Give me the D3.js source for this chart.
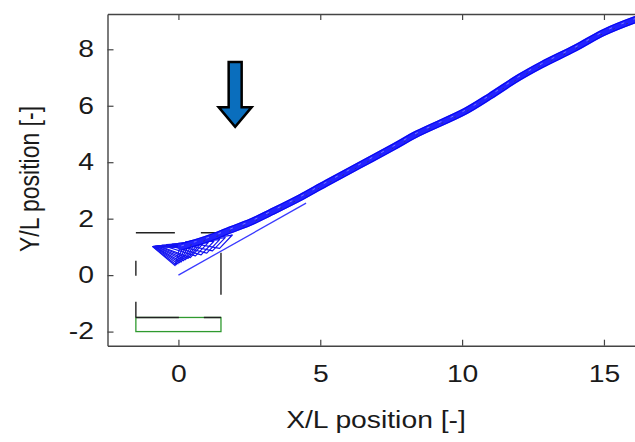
<!DOCTYPE html>
<html>
<head>
<meta charset="utf-8">
<script src="https://cdn.jsdelivr.net/npm/d3@7"></script>
<style>
  html, body { margin: 0; padding: 0; background: #fff; overflow: hidden; }
</style>
</head>
<body>
<div id="chart"></div>
<script>
// centre line of the swept band
const trackX = [0.1, 0.6, 1.2, 1.7, 2.55, 3.25, 4.3, 5.2, 6.4, 7.6, 8.4, 10.1, 11.0, 12.0, 12.8, 14.0, 15.0, 16.1, 16.7];
const trackY = [1.0, 1.15, 1.35, 1.55, 1.88, 2.22, 2.75, 3.25, 3.9, 4.55, 5.0, 5.8, 6.35, 7.0, 7.45, 8.05, 8.6, 9.05, 9.25];

// thin straight line from the origin
const leadX = [0, 4.5];
const leadY = [0, 2.55];

// outlines of the first snapshots (the fan near the start)
const fanShapes = [
    [[-0.91, 1.01], [-0.12, 0.34], [0.05, 0.98]],
    [[-0.90, 1.01], [-0.08, 0.37], [0.15, 0.99]],
    [[-0.88, 1.02], [-0.02, 0.40], [0.25, 1.00]],
    [[-0.86, 1.02], [0.04, 0.44], [0.35, 1.02]],
    [[-0.84, 1.02], [0.10, 0.47], [0.45, 1.03]],
    [[-0.81, 1.03], [0.18, 0.51], [0.55, 1.05]],
    [[-0.78, 1.03], [0.25, 0.55], [0.65, 1.06]],
    [[-0.74, 1.04], [0.34, 0.59], [0.75, 1.08]],
    [[-0.70, 1.04], [0.42, 0.62], [0.85, 1.10]],
    [[-0.58, 1.06], [0.60, 0.68], [1.05, 1.15]],
    [[-0.42, 1.08], [0.80, 0.72], [1.25, 1.20]],
    [[-0.22, 1.10], [1.00, 0.78], [1.45, 1.26]],
    [[0.00, 1.13], [1.20, 0.86], [1.65, 1.33]],
    [[0.25, 1.18], [1.45, 0.95], [1.90, 1.42]]
];

// dashed square and green strip
const boxX = [-1.5, 1.5];
const boxY = [-1.5, 1.5];
const padX = [-1.5, 1.5];
const padY = [-2.0, -1.5];

// arrow: x, and y of top / neck / tip
const arrowX = 2;
const arrowY = [7.55, 5.95, 5.25];

const xTicks = [0, 5, 10, 15];
const yTicks = [-2, 0, 2, 4, 6, 8];

const width = 635;
const height = 442;
const sx = 1.23; // the picture is stretched sideways, text too
const font = "'Liberation Sans', Arial, sans-serif";
const axisColor = '#444';

const x = d3.scaleLinear()
    .domain([-2.5, 16.5])
    .range([107.5, 646.5]);

const y = d3.scaleLinear()
    .domain([-2.5, 9.25])
    .range([345.7, 14]);

const svg = d3.select('#chart')
    .append('svg')
    .attr('width', width)
    .attr('height', height);

// axes (ticks point inward)
const gx = svg.append('g')
    .attr('transform', `translate(0, ${y(-2.5)})`)
    .call(d3.axisBottom(x).tickValues(xTicks).tickFormat(d => String(d))
        .tickSizeInner(-6).tickSizeOuter(0).tickPadding(19.5));

const gt = svg.append('g')
    .attr('transform', `translate(0, ${y(9.25)})`)
    .call(d3.axisTop(x).tickValues(xTicks).tickSizeInner(-6).tickSizeOuter(0).tickFormat(''));

const gy = svg.append('g')
    .attr('transform', `translate(${x(-2.5)}, 0)`)
    .call(d3.axisLeft(y).tickValues(yTicks).tickFormat(d => String(d))
        .tickSizeInner(-6).tickSizeOuter(0).tickPadding(13.5));

[gx, gt, gy].forEach(g => {
    g.select('.domain').attr('stroke', axisColor).attr('stroke-width', 1.4);
    g.selectAll('.tick line').attr('stroke', axisColor).attr('stroke-width', 1.2);
    g.selectAll('.tick text')
        .attr('font-family', font)
        .attr('font-size', '23px')
        .attr('fill', '#1a1a1a');
});

gx.selectAll('.tick text').attr('transform', `scale(${sx},1)`);
gy.selectAll('.tick text')
    .attr('x', -13.5 / sx)
    .attr('transform', `scale(${sx},1)`);

// axis titles
svg.append('text')
    .attr('font-family', font)
    .attr('font-size', '23px')
    .attr('fill', '#1a1a1a')
    .attr('text-anchor', 'middle')
    .attr('transform', `translate(376, 428.3) scale(${sx},1)`)
    .text('X/L position [-]');

svg.append('text')
    .attr('font-family', font)
    .attr('font-size', '23px')
    .attr('fill', '#1a1a1a')
    .attr('text-anchor', 'middle')
    .attr('transform', `translate(39, 179) scale(${sx},1) rotate(-90)`)
    .text('Y/L position [-]');

// green strip
svg.append('rect')
    .attr('x', x(padX[0]))
    .attr('y', y(padY[1]))
    .attr('width', x(padX[1]) - x(padX[0]))
    .attr('height', y(padY[0]) - y(padY[1]))
    .attr('fill', 'none')
    .attr('stroke', '#2f9a2f')
    .attr('stroke-width', 1.3);

// dashed square, one side at a time to keep the dash phase
const sides = [
    { x1: boxX[0], y1: boxY[1], x2: boxX[1], y2: boxY[1], dash: '39,26,15,10' },
    { x1: boxX[1], y1: boxY[1], x2: boxX[1], y2: boxY[0], dash: '0,20,42,30' },
    { x1: boxX[0], y1: boxY[0], x2: boxX[1], y2: boxY[0], dash: '43,25,20' },
    { x1: boxX[0], y1: boxY[1], x2: boxX[0], y2: boxY[0], dash: '0,28,15,26,16' }
];

svg.selectAll('line.box')
    .data(sides)
    .join('line')
    .attr('class', 'box')
    .attr('x1', d => x(d.x1))
    .attr('y1', d => y(d.y1))
    .attr('x2', d => x(d.x2))
    .attr('y2', d => y(d.y2))
    .attr('stroke', '#222')
    .attr('stroke-width', 1.4)
    .attr('stroke-dasharray', d => d.dash);

// thin lead line
svg.append('line')
    .attr('x1', x(leadX[0]))
    .attr('y1', y(leadY[0]))
    .attr('x2', x(leadX[1]))
    .attr('y2', y(leadY[1]))
    .attr('stroke', '#3a3aff')
    .attr('stroke-width', 1.3);

// fan of the first outlines
svg.selectAll('path.fan')
    .data(fanShapes)
    .join('path')
    .attr('class', 'fan')
    .attr('d', d => d3.line().x(p => x(p[0])).y(p => y(p[1]))(d) + 'Z')
    .attr('fill', 'none')
    .attr('stroke', '#1414f0')
    .attr('stroke-width', 1.2)
    .attr('stroke-linejoin', 'round');

// swept band
const track = trackX.map((v, i) => [v, trackY[i]]);
const trackLine = d3.line()
    .x(d => x(d[0]))
    .y(d => y(d[1]))
    .curve(d3.curveCatmullRom);

svg.append('path')
    .datum(track)
    .attr('d', trackLine)
    .attr('fill', 'none')
    .attr('stroke', '#2222ff')
    .attr('stroke-width', 7)
    .attr('stroke-linecap', 'round')
    .attr('stroke-linejoin', 'round');

[-3.2, 3.2].forEach(off => {
    svg.append('path')
        .datum(track)
        .attr('d', trackLine)
        .attr('transform', `translate(0, ${off})`)
        .attr('fill', 'none')
        .attr('stroke', '#0000ee')
        .attr('stroke-width', 1.1)
        .attr('opacity', 0.8);
});

// the small flecks inside the band
svg.append('path')
    .datum(track)
    .attr('d', trackLine)
    .attr('transform', 'translate(0, -1)')
    .attr('fill', 'none')
    .attr('stroke', '#8c8cff')
    .attr('stroke-width', 0.8)
    .attr('stroke-dasharray', '3,10');

svg.append('path')
    .datum(track)
    .attr('d', trackLine)
    .attr('transform', 'translate(0, 1)')
    .attr('fill', 'none')
    .attr('stroke', '#30306a')
    .attr('stroke-width', 0.7)
    .attr('stroke-dasharray', '2,12')
    .attr('stroke-dashoffset', 5);

// arrow
const ax = x(arrowX);
const [yTop, yNeck, yTip] = arrowY.map(v => y(v));
const shaft = 6.5;
const head = 16.5;

svg.append('path')
    .attr('d', `M${ax - shaft},${yTop} L${ax + shaft},${yTop} L${ax + shaft},${yNeck} L${ax + head},${yNeck}
        L${ax},${yTip} L${ax - head},${yNeck} L${ax - shaft},${yNeck} Z`)
    .attr('fill', '#0a6ebd')
    .attr('stroke', '#000')
    .attr('stroke-width', 2.5)
    .attr('stroke-linejoin', 'miter');
</script>
</body>
</html>
